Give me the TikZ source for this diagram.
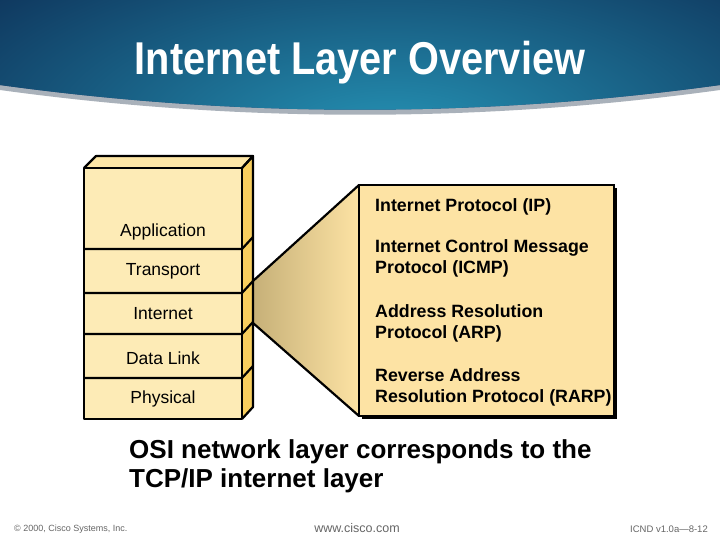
\documentclass[tikz,border=0pt]{standalone}
\usepackage{fontspec}
\setmainfont{Liberation Sans}
\usepackage{graphicx}
\definecolor{hdrnavy}{HTML}{0C2A5C}
\definecolor{hdrteal}{HTML}{2592B4}
\definecolor{hdrshadow}{HTML}{A9B1BA}
\definecolor{frontfill}{HTML}{FDEBB6}
\definecolor{topfill}{HTML}{FDE6A6}
\definecolor{sidefill}{HTML}{F8CE5E}
\definecolor{boxfill}{HTML}{FDE3A4}
\definecolor{funnelleft}{HTML}{C6B078}
\definecolor{funnelright}{HTML}{FDE3A4}
\definecolor{footgray}{HTML}{666666}
\tikzset{
  layerline/.style={line width=2.2pt, line join=round},
  layerlabel/.style={font=\fontsize{17.5bp}{21bp}\selectfont, anchor=center, inner sep=0pt},
  protolabel/.style={font=\fontsize{17.8bp}{21bp}\selectfont\bfseries, anchor=west, inner sep=0pt, align=left},
  bigtext/.style={font=\fontsize{26bp}{29bp}\selectfont\bfseries, anchor=west, inner sep=0pt},
  foot/.style={text=footgray, inner sep=0pt}
}
\begin{document}
\begin{tikzpicture}[x=1bp,y=-1bp]
\useasboundingbox (0,0) rectangle (720,540);
\fill[white] (0,0) rectangle (720,540);
% header shadow
\fill[hdrshadow] (0,85) .. controls (240,118) and (480,118) .. (720,85) -- (720,90) .. controls (480,123) and (240,123) .. (0,90) -- cycle;
% header
\begin{scope}
\clip (0,0) -- (720,0) -- (720,85) .. controls (480,118) and (240,118) .. (0,85) -- cycle;
\fill[hdrnavy] (0,0) rectangle (720,130);
\shade[inner color=hdrteal, outer color=hdrnavy!80!black] (390,135) ellipse (640 and 270);
\end{scope}
\node[text=white, font=\fontsize{46bp}{50bp}\selectfont\bfseries, inner sep=0pt] (title) at (360,63) {\scalebox{0.863}[1]{Internet Layer Overview}};

% funnel
\coordinate (fa) at (253,281);
\coordinate (fb) at (253,323);
\coordinate (ba) at (359,185);
\coordinate (bb) at (359,416);
\shade[left color=funnelleft, right color=funnelright, shading angle=90] (fa) -- (ba) -- (bb) -- (fb) -- cycle;
\draw[layerline] (fa) -- (ba);
\draw[layerline] (fb) -- (bb);

% right box
\fill[black] (362,188) rectangle (617,419);
\fill[boxfill] (359,185) rectangle (614,416);
\draw[line width=1.4pt] (359,185) rectangle (614,416);

% stack
\fill[topfill] (84,168) -- (96,156) -- (253,156) -- (242,168) -- cycle;
\fill[sidefill] (242,168) -- (253,156) -- (253,407) -- (242,419) -- cycle;
\fill[frontfill] (84,168) rectangle (242,419);
\draw[layerline] (84,168) -- (96,156) -- (253,156) -- (242,168);
\draw[layerline] (242,168) -- (253,156) -- (253,407) -- (242,419);
\draw[layerline] (84,168) rectangle (242,419);
\foreach \yy in {249,293,334,378}{
  \draw[layerline] (84,\yy) -- (242,\yy) -- (253,\yy-12);
}
\node[layerlabel] (app) at (163,232) {Application};
\node[layerlabel] (trans) at (163,271) {Transport};
\node[layerlabel] (inet) at (163,314) {Internet};
\node[layerlabel] (dlink) at (163,358) {Data Link};
\node[layerlabel] (phys) at (163,399) {Physical};

% protocols
\node[protolabel] (ip) at (375,207) {Internet Protocol (IP)};
\node[protolabel] (icmp) at (375,258) {Internet Control Message\\Protocol (ICMP)};
\node[protolabel] (arp) at (375,323) {Address Resolution\\Protocol (ARP)};
\node[protolabel] (rarp) at (375,387) {Reverse Address\\Resolution Protocol (RARP)};

% bottom statement
\node[bigtext] (osi1) at (129,452) {OSI network layer corresponds to the};
\node[bigtext] (osi2) at (129,481) {TCP/IP internet layer};

% footer
\node[foot, font=\fontsize{9bp}{10bp}\selectfont, anchor=west] (copy) at (14,529) {\textcopyright{} 2000, Cisco Systems, Inc.};
\node[foot, font=\fontsize{12.5bp}{14bp}\selectfont, anchor=center] (www) at (357,528) {www.cisco.com};
\node[foot, font=\fontsize{9.5bp}{10bp}\selectfont, anchor=east] (icnd) at (708,529) {ICND v1.0a—8-12};
\end{tikzpicture}
\end{document}
